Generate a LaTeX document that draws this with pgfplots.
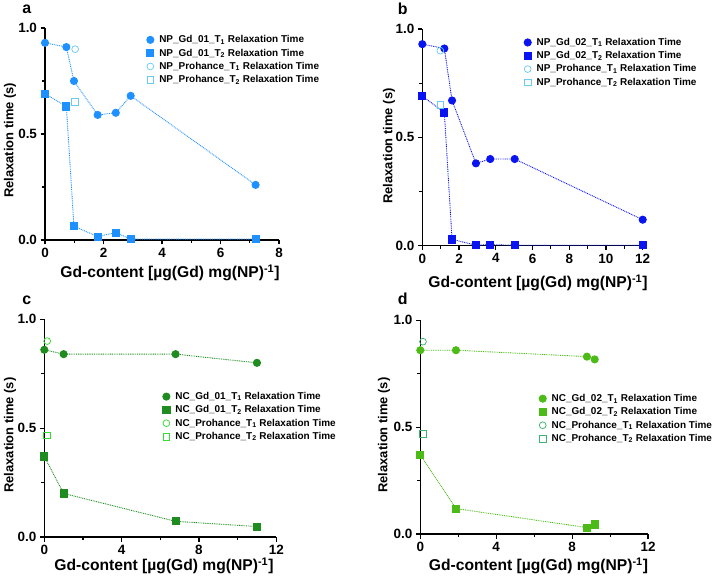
\documentclass[border=0pt]{standalone}
\usepackage{fontspec}
\setmainfont{Liberation Sans}
\usepackage{pgfplots}
\pgfplotsset{compat=1.18}
\definecolor{aC}{HTML}{1E90FF}
\definecolor{aP}{HTML}{6CCAF0}
\definecolor{bC}{HTML}{0A14F0}
\definecolor{bP}{HTML}{6CCAF0}
\definecolor{cC}{HTML}{1E8C1E}
\definecolor{cP}{HTML}{33DD33}
\definecolor{dC}{HTML}{4CBB17}
\definecolor{dP}{HTML}{3CB371}
\pgfplotsset{
 gp/.style={scale only axis, axis x line=bottom, axis y line=left,
  axis line style={-,line width=1.3pt}, tick align=outside,
  major tick length=4.5bp, minor tick length=3bp,
  tick style={black,line width=1.1pt},
  ymin=0,ymax=1, ytick={0,0.5,1}, yticklabels={0.0,0.5,1.0}, minor ytick={0.25,0.75},
  ticklabel style={font=\bfseries\fontsize{13.5}{15}\selectfont},
  /pgf/number format/assume math mode=true, clip=false,
  xlabel={Gd-content [µg(Gd) mg(NP)\textsuperscript{-1}]},
  ylabel={Relaxation time (s)},
  xlabel style={font=\bfseries\fontsize{15.7}{18}\selectfont, anchor=center},
  ylabel style={font=\bfseries\fontsize{13}{16}\selectfont, anchor=center, rotate=0},
  legend style={draw=none, fill=none, font=\bfseries\fontsize{10}{12}\selectfont, anchor=north west, row sep=0.6bp, inner sep=0pt},
  legend cell align=left,
  legend image code/.code={\path (-3.6bp,0bp) (6.5bp,0bp); \draw[##1,only marks] plot coordinates {(0bp,0bp)};},
 },
 dl/.style={line width=0.9pt, dash pattern=on 0.9pt off 0.9pt, mark options={solid}, mark size=3.6pt},
 pr/.style={only marks, mark size=3.4pt, mark options={line width=0.75pt}},
}
\begin{document}
\begin{tikzpicture}
\useasboundingbox (0,0) rectangle (712bp,582bp);
% panel a
\begin{axis}[gp, at={(45bp,342bp)}, anchor=south west, width=234bp, height=212bp,
  xmin=0, xmax=8, xtick={0,2,4,6,8}, minor xtick={1,3,5,7},
  xlabel style={at={(axis description cs:0.534,-0.156)}},
  ylabel style={at={(axis description cs:-0.15,0.47)}},
  legend style={at={(axis description cs:0.432,0.975)}}]
\addplot[dl, color=aC, mark=*] coordinates {(0,0.93) (0.73,0.91) (0.99,0.75) (1.8,0.59) (2.42,0.60) (2.93,0.68) (7.2,0.26)};
\addlegendentry{NP\_Gd\_01\_T\textsubscript{1} Relaxation Time}
\addplot[dl, color=aC, mark=square*] coordinates {(0,0.69) (0.73,0.63) (0.99,0.065) (1.8,0.016) (2.42,0.035) (2.93,0.004) (7.2,0.004)};
\addlegendentry{NP\_Gd\_01\_T\textsubscript{2} Relaxation Time}
\addplot[pr, color=aP, mark=o] coordinates {(1.03,0.90)};
\addlegendentry{NP\_Prohance\_T\textsubscript{1} Relaxation Time}
\addplot[pr, color=aP, mark=square] coordinates {(1.03,0.65)};
\addlegendentry{NP\_Prohance\_T\textsubscript{2} Relaxation Time}
\end{axis}
% panel b
\begin{axis}[gp, at={(422.3bp,336.3bp)}, anchor=south west, width=220.4bp, height=216.7bp,
  xmin=0, xmax=12, xtick={0,2,4,6,8,10,12}, minor xtick={1,3,5,7,9,11},
  xlabel style={at={(axis description cs:0.525,-0.172)}},
  ylabel style={at={(axis description cs:-0.151,0.46)}},
  legend style={at={(axis description cs:0.459,0.968)}}]
\addplot[dl, color=bC, mark=*] coordinates {(0,0.93) (1.2,0.91) (1.62,0.67) (2.92,0.38) (3.7,0.40) (5.03,0.40) (12,0.12)};
\addlegendentry{NP\_Gd\_02\_T\textsubscript{1} Relaxation Time}
\addplot[dl, color=bC, mark=square*] coordinates {(0,0.69) (1.2,0.615) (1.62,0.029) (2.92,0.002) (3.7,0.005) (5.03,0.002) (12,0.002)};
\addlegendentry{NP\_Gd\_02\_T\textsubscript{2} Relaxation Time}
\addplot[pr, color=bP, mark=o] coordinates {(0.98,0.90)};
\addlegendentry{NP\_Prohance\_T\textsubscript{1} Relaxation Time}
\addplot[pr, color=bP, mark=square] coordinates {(0.98,0.65)};
\addlegendentry{NP\_Prohance\_T\textsubscript{2} Relaxation Time}
\end{axis}
% panel c
\begin{axis}[gp, at={(44.3bp,45bp)}, anchor=south west, width=232bp, height=217.7bp,
  xmin=0, xmax=12, xtick={0,4,8,12}, minor xtick={2,6,10},
  xlabel style={at={(axis description cs:0.516,-0.133)}},
  ylabel style={at={(axis description cs:-0.148,0.468)}},
  legend style={at={(axis description cs:0.508,0.675)}}]
\addplot[dl, color=cC, mark=*] coordinates {(0,0.86) (1.0,0.84) (6.79,0.84) (11.0,0.80)};
\addlegendentry{NC\_Gd\_01\_T\textsubscript{1} Relaxation Time}
\addplot[dl, color=cC, mark=square*] coordinates {(0,0.37) (1.0,0.20) (6.79,0.072) (11.0,0.048)};
\addlegendentry{NC\_Gd\_01\_T\textsubscript{2} Relaxation Time}
\addplot[pr, color=cP, mark=o] coordinates {(0.15,0.90)};
\addlegendentry{NC\_Prohance\_T\textsubscript{1} Relaxation Time}
\addplot[pr, color=cP, mark=square] coordinates {(0.15,0.467)};
\addlegendentry{NC\_Prohance\_T\textsubscript{2} Relaxation Time}
\end{axis}
% panel d
\begin{axis}[gp, at={(420.3bp,48bp)}, anchor=south west, width=227.7bp, height=213.7bp,
  xmin=0, xmax=12, xtick={0,4,8,12}, minor xtick={2,6,10},
  xlabel style={at={(axis description cs:0.519,-0.15)}},
  ylabel style={at={(axis description cs:-0.159,0.463)}},
  legend style={at={(axis description cs:0.519,0.664)}}]
\addplot[dl, color=dC, mark=*] coordinates {(0,0.86) (1.88,0.86) (8.78,0.83) (9.19,0.817)};
\addlegendentry{NC\_Gd\_02\_T\textsubscript{1} Relaxation Time}
\addplot[dl, color=dC, mark=square*] coordinates {(0,0.37) (1.88,0.119) (8.78,0.03) (9.19,0.045)};
\addlegendentry{NC\_Gd\_02\_T\textsubscript{2} Relaxation Time}
\addplot[pr, color=dP, mark=o] coordinates {(0.14,0.90)};
\addlegendentry{NC\_Prohance\_T\textsubscript{1} Relaxation Time}
\addplot[pr, color=dP, mark=square] coordinates {(0.14,0.468)};
\addlegendentry{NC\_Prohance\_T\textsubscript{2} Relaxation Time}
\end{axis}
\node[font=\bfseries\fontsize{16}{18}\selectfont, anchor=base] at (26.7bp,568.7bp) {a};
\node[font=\bfseries\fontsize{16}{18}\selectfont, anchor=base] at (402.7bp,567bp) {b};
\node[font=\bfseries\fontsize{16}{18}\selectfont, anchor=base] at (26.7bp,277.7bp) {c};
\node[font=\bfseries\fontsize{16}{18}\selectfont, anchor=base] at (402.7bp,277.7bp) {d};
\end{tikzpicture}
\end{document}
